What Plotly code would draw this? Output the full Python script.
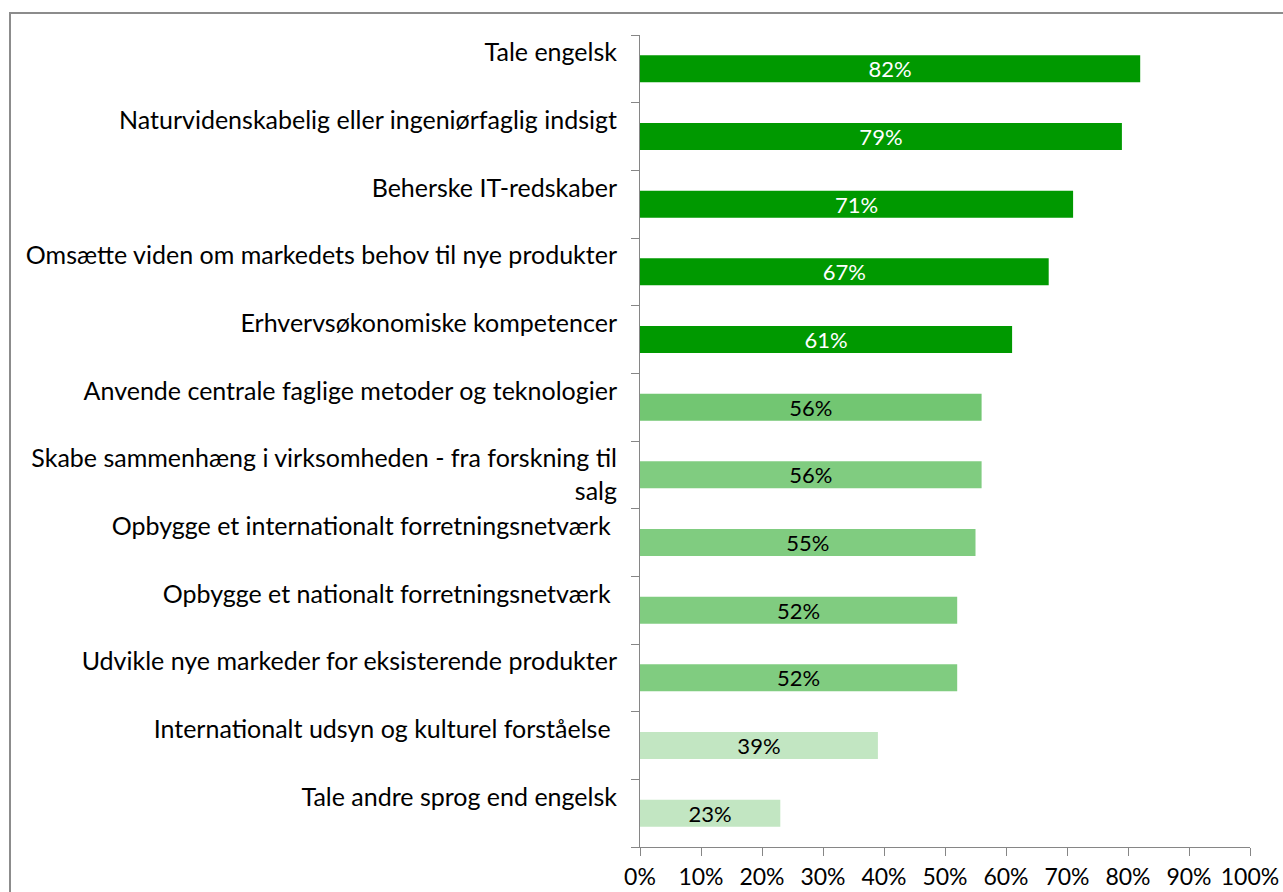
import plotly.graph_objects as go

# Kompetencer og andel (%) der vurderer dem vigtige
categories = [
    "Tale engelsk",
    "Naturvidenskabelig eller ingeniørfaglig indsigt",
    "Beherske IT-redskaber",
    "Omsætte viden om markedets behov til nye produkter",
    "Erhvervsøkonomiske kompetencer",
    "Anvende centrale faglige metoder og teknologier",
    "Skabe sammenhæng i virksomheden - fra forskning til<br>salg",
    "Opbygge et internationalt forretningsnetværk ",
    "Opbygge et nationalt forretningsnetværk ",
    "Udvikle nye markeder for eksisterende produkter",
    "Internationalt udsyn og kulturel forståelse ",
    "Tale andre sprog end engelsk",
]
values = [82, 79, 71, 67, 61, 56, 56, 55, 52, 52, 39, 23]
bar_colors = ["#009900"] * 5 + ["#72C672"] + ["#80CC80"] * 4 + ["#C2E6C2"] * 2
text_colors = ["#FFFFFF"] * 5 + ["#000000"] * 7
x_ticks = list(range(0, 101, 10))

# single-line labels sit above the band centre; pad them with an empty line
tick_text = [c if "<br>" in c else c + "<br> " for c in categories]

FONT = "Lato"

fig = go.Figure(
    go.Bar(
        y=categories,
        x=values,
        orientation="h",
        marker=dict(color=bar_colors, line=dict(width=0)),
        text=[f"{v}%" for v in values],
        textposition="inside",
        insidetextanchor="middle",
        constraintext="none",
        textangle=0,
        textfont=dict(family=FONT, size=22, color=text_colors),
        hoverinfo="skip",
    )
)

fig.update_layout(
    width=1283,
    height=892,
    margin=dict(l=640, r=33, t=35, b=45, autoexpand=False),
    paper_bgcolor="white",
    plot_bgcolor="white",
    bargap=0.6,
    showlegend=False,
    font=dict(family=FONT, size=25, color="#000000"),
)

fig.update_yaxes(
    categoryorder="array",
    categoryarray=categories,
    tickmode="array",
    tickvals=categories,
    ticktext=tick_text,
    autorange="reversed",
    automargin=False,
    showline=True,
    linecolor="#868686",
    linewidth=1,
    ticks="outside",
    ticklen=8,
    tickcolor="#868686",
    showgrid=False,
    ticklabelstandoff=17,
    tickson="boundaries",
    tickfont=dict(family=FONT, size=25, color="#000000"),
)

fig.update_xaxes(
    range=[0, 100],
    tickmode="array",
    tickvals=x_ticks,
    ticktext=[f"{t}%" for t in x_ticks],
    automargin=False,
    showline=True,
    linecolor="#868686",
    linewidth=1,
    ticks="outside",
    ticklen=8,
    tickcolor="#868686",
    showgrid=False,
    zeroline=False,
    ticklabelstandoff=1,
    tickfont=dict(family=FONT, size=23, color="#000000"),
)

# chart-area border
fig.add_shape(
    type="rect",
    xref="paper", yref="paper",
    x0=(10 - 640) / 610, x1=1.2,
    y0=-0.2, y1=(847 - 13) / 812,
    line=dict(color="#8C8C8C", width=2),
    fillcolor="rgba(0,0,0,0)",
    layer="below",
)

fig.write_html("out.html")
